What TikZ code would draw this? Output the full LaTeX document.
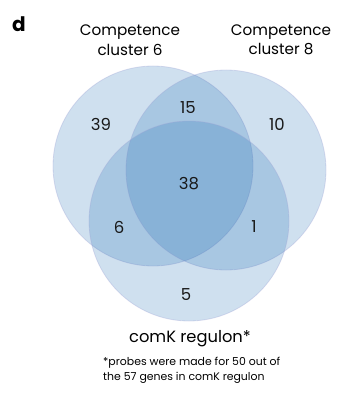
\documentclass[tikz,border=0pt]{standalone}
\usepackage{fontspec}
\setmainfont{Poppins}
\definecolor{venn}{RGB}{3,92,171}
\definecolor{vennedge}{RGB}{160,165,215}
\begin{document}
\begin{tikzpicture}[x=1pt,y=-1pt,
  venncircle/.style={fill=venn,fill opacity=0.19,draw=vennedge,draw opacity=0.35,line width=0.8pt},
  lbl/.style={font=\fontsize{15.2}{19.5}\selectfont,align=center,text=black,inner sep=0pt},
  num/.style={font=\fontsize{16.5}{18}\selectfont,text=black!90,inner sep=0pt},
  note/.style={font=\fontsize{10.9}{15}\selectfont,align=left,text=black,inner sep=0pt}]
\useasboundingbox (0,0) rectangle (339,396);
\fill[white] (0,0) rectangle (339,396);
\path[venncircle] (153,166) circle (100);
\path[venncircle] (226,170) circle (100);
\path[venncircle] (189,221) circle (100);
\node[font=\fontsize{20}{21}\selectfont\bfseries,inner sep=0pt] (d) at (19,24) {d};
\node[lbl] (c6) at (130,40) {Competence\\cluster 6};
\node[lbl] (c8) at (281,40) {Competence\\cluster 8};
\node[num] (n39) at (101,124) {39};
\node[num] (n15) at (188,108) {15};
\node[num] (n10) at (277,124) {10};
\node[num] (n38) at (189,184) {38};
\node[num] (n6) at (119,227) {6};
\node[num] (n1) at (254,227) {1};
\node[num] (n5) at (186,295) {5};
\node[lbl,font=\fontsize{16.3}{19}\selectfont] (ck) at (190,339) {comK regulon*};
\node[note,anchor=west] (fn) at (103,370) {*probes were made for 50 out of\\the 57 genes in comK regulon};
\end{tikzpicture}
\end{document}
